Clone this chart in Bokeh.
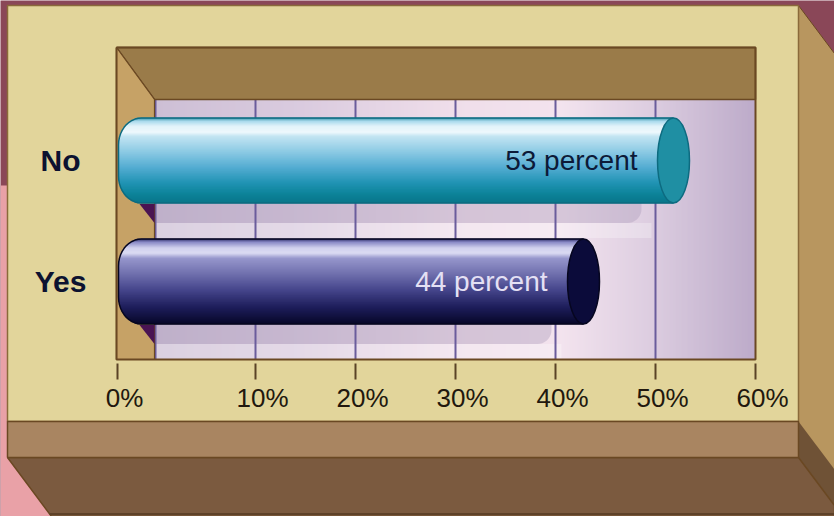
import numpy as np
from bokeh.plotting import figure
from bokeh.models import Range1d
from bokeh.core.properties import value
from bokeh.embed import file_html
from bokeh.resources import INLINE

# ---------------- data ----------------
categories = ["No", "Yes"]
percents = [53, 44]
bar_labels = ["53 percent", "44 percent"]
tick_values = [0, 10, 20, 30, 40, 50, 60]
tick_labels = ["0%", "10%", "20%", "30%", "40%", "50%", "60%"]

# ---------------- geometry / style ----------------
W, H = 834, 516
X0PX, XSCALE = 155.0, 10.0    # pixel of 0% on the back wall, px per percent
Y0PX, YSCALE = 281.0, 121.0   # pixel of lowest category slot, px per slot


def X(px):
    return (px - X0PX) / XSCALE


def Y(py):
    return (Y0PX - py) / YSCALE


MAROON = "#8a4758"
PINK = "#e9a1a7"
CREAM = "#e2d59b"
LEDGE = "#a98561"
BOTTOM = "#7b5a3f"
SIDE = "#b8965f"
SIDE_DARK = "#6f5236"
CEIL = "#9a7b49"
LWALL = "#c6a266"
EDGE = "#6a4823"
GRIDC = "#6a5c9c"


def hex2rgb(h):
    h = h.lstrip("#")
    return np.array([int(h[i:i + 2], 16) for i in (0, 2, 4)], dtype=float)


def grad(stops, t):
    ts = [s[0] for s in stops]
    cols = [hex2rgb(s[1]) for s in stops]
    out = []
    for tt in np.atleast_1d(t):
        tt = min(max(tt, ts[0]), ts[-1])
        for k in range(len(ts) - 1):
            if ts[k] <= tt <= ts[k + 1]:
                f = (tt - ts[k]) / (ts[k + 1] - ts[k]) if ts[k + 1] > ts[k] else 0
                c = cols[k] * (1 - f) + cols[k + 1] * f
                break
        out.append("#%02x%02x%02x" % tuple(int(round(v)) for v in c))
    return out


p = figure(width=W, height=H, x_range=Range1d(X(0), X(W)), y_range=Range1d(Y(H), Y(0)),
           output_backend="svg", toolbar_location=None, min_border=0,
           x_axis_type=None, y_axis_type=None)
p.outline_line_color = None
p.background_fill_color = MAROON
p.border_fill_color = MAROON


def poly(pts, color, line=None, lw=1.0, alpha=1.0):
    p.patch([X(a) for a, b in pts], [Y(b) for a, b in pts], fill_color=color,
            fill_alpha=alpha, line_color=line, line_width=lw)


# ---- surroundings / box ----
poly([(0, 185), (9, 185), (9, 457), (52, 516), (0, 516)], PINK)
poly([(798, 5), (834, 53), (834, 516), (798, 516)], SIDE, line=EDGE, lw=1)
poly([(798, 421), (834, 469), (834, 516), (798, 516)], SIDE_DARK)
poly([(7, 457), (798, 457), (834, 505), (834, 516), (51, 516)], BOTTOM, line=EDGE, lw=1.5)
poly([(7, 5), (798, 5), (798, 421), (7, 421)], CREAM, line="#8a6a3a", lw=1.5)
poly([(7, 421), (798, 421), (798, 457), (7, 457)], LEDGE, line=EDGE, lw=1.5)
p.line([X(49), X(834)], [Y(513.5), Y(513.5)], line_color="#5e4229", line_width=2)

# ---- back wall gradient ----
wall_stops = [(154, "#cdbfd5"), (300, "#dacbdf"), (450, "#efdeea"), (560, "#f3e3ee"),
              (650, "#dccde0"), (755, "#bcaac9")]
xs = np.arange(154, 755, 2.0)
p.quad(left=[X(a) for a in xs], right=[X(min(a + 2.6, 755)) for a in xs],
       top=[Y(99)] * len(xs), bottom=[Y(359)] * len(xs),
       fill_color=grad(wall_stops, xs), line_color=None)

slots = [len(categories) - 1 - i for i in range(len(categories))]
hh = 42.5 / YSCALE           # half bar height in slot units
cap_w = 3.2                   # cap ellipse width in percent units
cap_ctr = [v - 1.2 for v in percents]

# shadows and light bands on the back wall
rxs, rys = 1.4, 14 / YSCALE
ang = np.linspace(0, np.pi / 2, 10)
for s, v in zip(slots, percents):
    top = s + hh - 0.1
    bot = s - hh - 20 / YSCALE
    R = v - 4.4
    sx = [X(154), R] + list(R - rxs + rxs * np.cos(ang)) + [X(154)]
    sy = [top, top] + list(bot + rys - rys * np.sin(ang)) + [bot]
    p.patch(sx, sy, fill_color="#a898b8", fill_alpha=0.38, line_color=None)
    p.quad(left=[X(154)], right=[R + 1.0], top=[bot], bottom=[bot - 15 / YSCALE],
           fill_color="#ffffff", fill_alpha=0.28, line_color=None)

# grid lines on back wall
for t in tick_values[:-1]:
    p.line([t, t], [Y(99), Y(359)], line_color=GRIDC, line_width=2)

# ceiling and left wall
poly([(116, 47), (755, 47), (755, 99), (154, 99)], CEIL, line=EDGE, lw=1.5)
poly([(116, 47), (154, 99), (154, 359), (116, 359)], LWALL, line=EDGE, lw=1.2)

# bar shadows on left wall
for s in slots:
    b = s - hh
    p.patch([X(139), X(154), X(154)], [b - 1 / YSCALE, b - 1 / YSCALE, b - 20 / YSCALE],
            fill_color="#4a1452", line_color=None)

# opening border
p.line([X(116), X(755), X(755), X(116), X(116)], [Y(47), Y(47), Y(359), Y(359), Y(47)],
       line_color=EDGE, line_width=2)

# ---- cylinders ----
bar_stops = [
    [(0.0, "#2f8fa6"), (0.04, "#a9d9ec"), (0.10, "#e2f3fa"), (0.17, "#eef8fc"),
     (0.22, "#c2e4f2"), (0.40, "#8ccae4"), (0.58, "#55add2"), (0.76, "#2294b5"),
     (0.90, "#0c8399"), (1.0, "#0a768a")],
    [(0.0, "#2a2a64"), (0.04, "#8a8ac6"), (0.11, "#d2d2ee"), (0.17, "#dadaf2"),
     (0.23, "#9696cc"), (0.40, "#7373b0"), (0.60, "#46468c"), (0.80, "#1f1f5c"),
     (1.0, "#07072a")],
]
cap_fill = ["#1f8fa3", "#0b0b3a"]
outline = ["#0d6b80", "#06061f"]
text_col = ["#0c1a38", "#e4e0f4"]

left_edge = X(118)
rx = 2.3                 # rounding of the left end, percent units
ry = 27 / YSCALE         # rounding of the left end, slot units
NS = 85
for k, (s, v) in enumerate(zip(slots, percents)):
    ys = np.linspace(s + hh, s - hh, NS + 1)
    yc = (ys[:-1] + ys[1:]) / 2
    frac = (s + hh - yc) / (2 * hh)
    d = np.abs(yc - s)
    u = np.clip((d - (hh - ry)) / ry, 0, 1)
    lefts = left_edge + rx * (1 - np.sqrt(1 - u ** 2))
    p.hbar(y=list(yc), height=2 * hh / NS * 1.35, left=list(lefts),
           right=[cap_ctr[k]] * NS, fill_color=grad(bar_stops[k], frac), line_color=None)
    # outline of the body
    a2 = np.linspace(0, np.pi / 2, 12)
    top_arc_x = left_edge + rx * (1 - np.cos(a2))
    top_arc_y = s + hh - ry * (1 - np.sin(a2))
    ox = [cap_ctr[k]] + list(top_arc_x[::-1]) + list(top_arc_x) + [cap_ctr[k]]
    oy = [s + hh] + list(top_arc_y[::-1]) + list(2 * s - top_arc_y) + [s - hh]
    p.line(ox, oy, line_color=outline[k], line_width=1.5)
    # end cap
    p.ellipse(x=[cap_ctr[k]], y=[s], width=[cap_w], height=[2 * hh],
              fill_color=cap_fill[k], line_color=outline[k], line_width=1.5)

# value labels inside bars
p.text(x=[c - 3.6 for c in cap_ctr], y=slots, text=bar_labels,
       text_font=value("Liberation Sans"), text_font_size="28px",
       text_align="right", text_baseline="middle", text_color=text_col)

# category labels
p.text(x=[X(60)] * len(categories), y=slots, text=categories,
       text_font=value("Liberation Sans"), text_font_style="bold", text_font_size="30px",
       text_align="center", text_baseline="middle", text_color="#0c1230")

# ticks and tick labels (0% sits on the front edge of the frame)
tick_x = [t if t > 0 else X(117) for t in tick_values]
for tx in tick_x:
    p.line([tx, tx], [Y(363), Y(379)], line_color="#5a4326", line_width=2)
p.text(x=[tx + 0.7 for tx in tick_x], y=[Y(397)] * len(tick_x), text=tick_labels,
       text_font=value("Liberation Sans"), text_font_size="26px",
       text_align="center", text_baseline="middle", text_color="#21180e")

open("out.html", "w").write(file_html(p, INLINE))
